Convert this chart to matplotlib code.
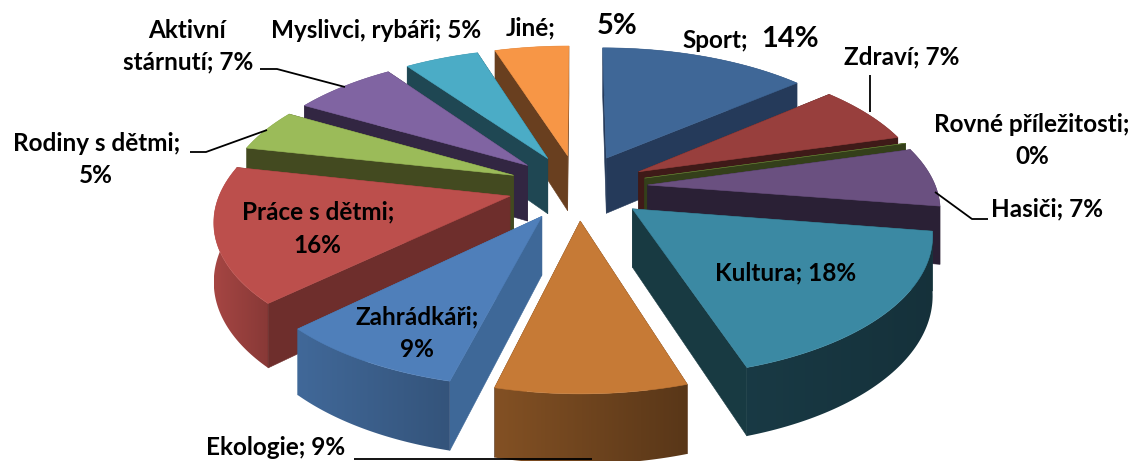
import numpy as np
import matplotlib
matplotlib.use("Agg")
import matplotlib.pyplot as plt
from matplotlib.patches import Polygon
from matplotlib.colors import to_rgb

# data, in pie order, clockwise from 12 o'clock
nazvy = ["Sport", "Zdraví", "Rovné příležitosti", "Hasiči", "Kultura", "Ekologie",
         "Zahrádkáři", "Práce s dětmi", "Rodiny s dětmi", "Aktivní stárnutí",
         "Myslivci, rybáři", "Jiné"]
hodnoty = [14, 7, 0, 7, 18, 9, 9, 16, 5, 7, 5, 5]

# colours
barvy = ["#3F6797", "#983F3D", "#76923C", "#6A5080", "#3B89A3", "#C67A36",
         "#4F7FBA", "#BC4F4C", "#9BBB59", "#8064A2", "#4BACC6", "#F79646"]
barvy_bok = ["#253A5A", "#3F1A18", "#343F1A", "#2A2035", "#183A42", "#5A3517",
             "#3E6898", "#6E2E2C", "#434A20", "#322642", "#1F4753", "#693F1F"]
# shade of the outer wall, left end and right end of the slice
stin_od = [.6, .5, .5, .45, .42, .66, .82, .88, .6, .5, .55, .6]
stin_do = [.6, .5, .5, .45, .36, .45, .66, .72, .6, .5, .55, .6]

# geometry of the fake 3D pie
CX, CY = 578, 187
R = 288
VYBUCH = 70
VYSKA = 57
SKLON = 0.469
PERSP = 1900


def projekce(x, y, z=0.0):
    s = 1.0 / (1.0 + y / PERSP)
    return CX + x * s, CY - SKLON * y * s + z * s


fig = plt.figure(figsize=(11.34, 4.61), dpi=100)
ax = fig.add_axes([0, 0, 1, 1])

kumul = np.cumsum([0] + hodnoty) / sum(hodnoty) * 2 * np.pi
poradi = sorted(range(len(hodnoty)),
                key=lambda i: -np.cos((kumul[i] + kumul[i + 1]) / 2))

# back to front
z = 1
for i in poradi:
    t0, t1 = kumul[i], kumul[i + 1]
    mid = (t0 + t1) / 2
    ox, oy = np.sin(mid) * VYBUCH, np.cos(mid) * VYBUCH
    tt = np.linspace(t0, t1, 60)
    ex = ox + R * np.sin(tt)
    ey = oy + R * np.cos(tt)

    steny = []
    for t in (t0, t1):
        bx, by = ox + R * np.sin(t), oy + R * np.cos(t)
        q = [projekce(ox, oy), projekce(bx, by), projekce(bx, by, VYSKA), projekce(ox, oy, VYSKA)]
        steny.append(((oy + by) / 2, q, barvy_bok[i]))
    if hodnoty[i] > 0:
        q = [projekce(a, b) for a, b in zip(ex, ey)] + \
            [projekce(a, b, VYSKA) for a, b in zip(ex[::-1], ey[::-1])]
        steny.append((ey.mean(), q, None))

    for _, q, c in sorted(steny, key=lambda s: -s[0]):
        if c is not None:
            ax.add_patch(Polygon(q, closed=True, facecolor=c, edgecolor=c, linewidth=0.4, zorder=z))
        else:
            # outer wall: horizontal gradient clipped to the wall outline
            q = np.array(q)
            zaklad = np.array(to_rgb(barvy[i]))
            stiny = np.linspace(stin_od[i], stin_do[i], 64)
            grad = (stiny[:, None] * zaklad)[None, :, :]
            im = ax.imshow(grad, extent=(q[:, 0].min(), q[:, 0].max(), q[:, 1].max(), q[:, 1].min()),
                           aspect="auto", zorder=z, interpolation="bilinear")
            okraj = Polygon(q, closed=True, transform=ax.transData)
            im.set_clip_path(okraj)
        z += 1

    vrch = [projekce(ox, oy)] + [projekce(a, b) for a, b in zip(ex, ey)]
    ax.add_patch(Polygon(vrch, closed=True, facecolor=barvy[i], edgecolor=barvy[i], linewidth=0.4, zorder=z))
    z += 1

ax.set_xlim(0, 1134)
ax.set_ylim(461, 0)
ax.axis("off")

# leader lines
vodici = [
    ([354, 592], [459, 459]),
    ([260, 277, 345], [69, 69, 87]),
    ([190, 206, 267], [152, 152, 130]),
    ([870, 870], [75, 112]),
    ([935, 972, 988], [192, 219, 219]),
]
for xs, ys in vodici:
    ax.plot(xs, ys, color="black", linewidth=1.3, solid_capstyle="butt", zorder=z)

# labels
FONT = ["Lato", "DejaVu Sans"]
VEL = 17.5
popisky = [
    ("Myslivci, rybáři; 5%", 376, 30, VEL),
    ("Aktivní", 187, 30, VEL),
    ("stárnutí; 7%", 188, 62, VEL),
    ("Rodiny s dětmi;", 97, 143, VEL),
    ("5%", 96, 175, VEL),
    ("Zdraví; 7%", 902, 57, VEL),
    ("Rovné příležitosti;", 1032, 124, VEL),
    ("0%", 1032, 156, VEL),
    ("Hasiči; 7%", 1047, 209, VEL),
    ("Kultura; 18%", 786, 273, VEL),
    ("Práce s dětmi;", 318, 212, VEL),
    ("16%", 317, 245, VEL),
    ("Zahrádkáři;", 417, 317, VEL),
    ("9%", 417, 349, VEL),
    ("Ekologie; 9%", 276, 447, VEL),
    ("Jiné;", 531, 28, VEL),
    ("5%", 617, 26, 21),
    ("Sport;", 715, 41, VEL),
    ("14%", 790, 39, 21),
]
for txt, x, y, vel in popisky:
    ax.text(x, y, txt, ha="center", va="center", fontsize=vel, fontweight="bold",
            family=FONT, color="black", zorder=z + 1)

fig.savefig("out.png", dpi=100, facecolor="white")
